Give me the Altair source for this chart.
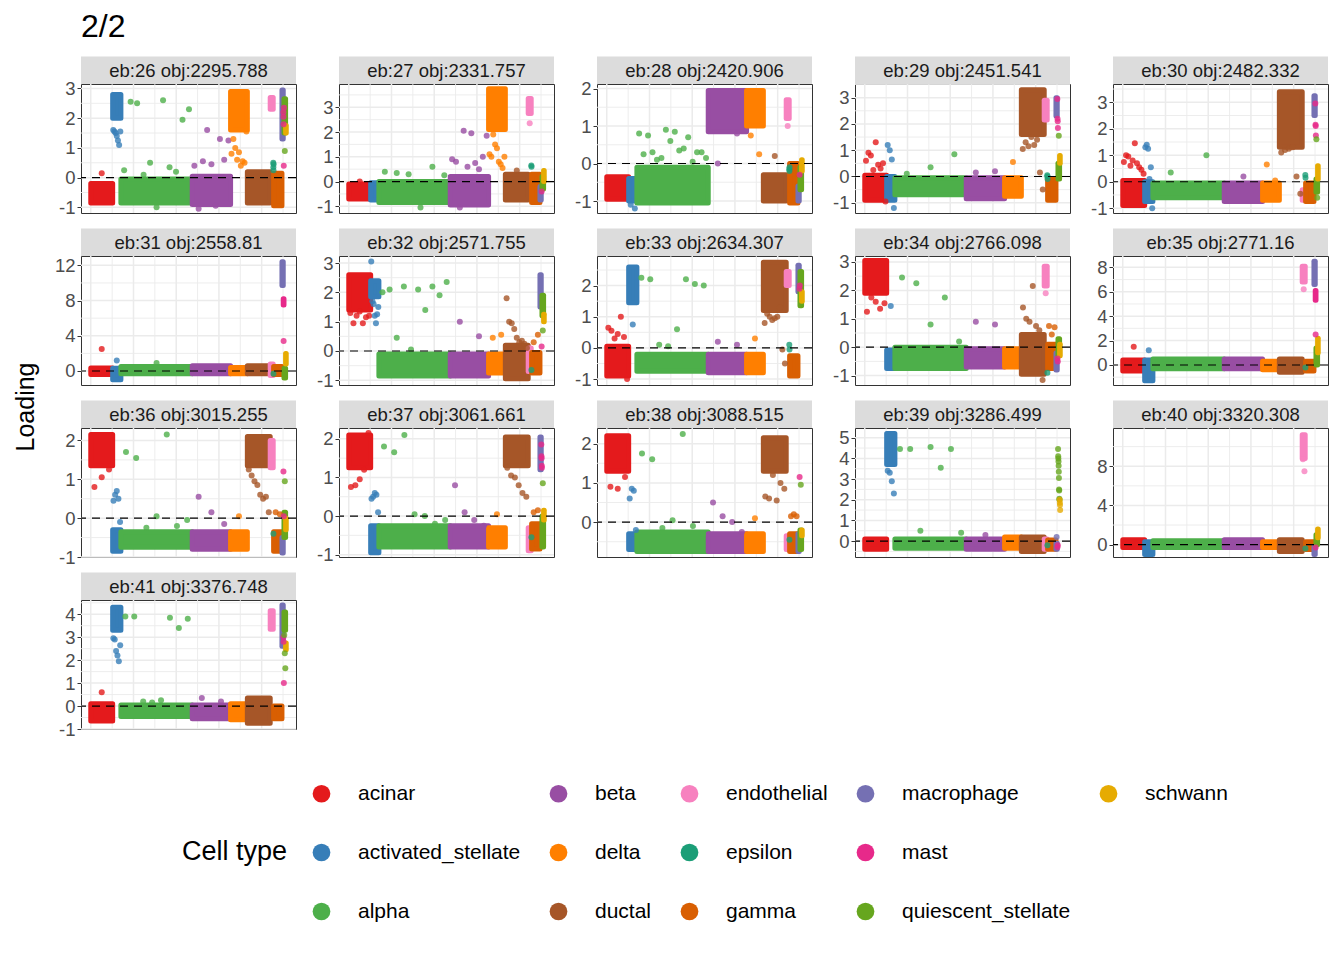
import altair as alt
import pandas as pd

# ---------------- data ----------------
cell_types = ["acinar", "activated_stellate", "alpha", "beta", "delta", "ductal",
              "endothelial", "epsilon", "gamma", "macrophage", "mast",
              "quiescent_stellate", "schwann"]
type_colors = ["#E41A1C", "#377EB8", "#4DAF4A", "#984EA3", "#FF7F00", "#A65628",
               "#F781BF", "#1B9E77", "#D95F02", "#7570B3", "#E7298A", "#66A61E", "#E6AB02"]
cells_per_type = [1025, 385, 3340, 1795, 785, 1070, 140, 20, 390, 60, 35, 75, 30]

panel_eb = [26, 27, 28, 29, 30, 31, 32, 33, 34, 35, 36, 37, 38, 39, 40, 41]
panel_obj = ["2295.788", "2331.757", "2420.906", "2451.541", "2482.332", "2558.81",
             "2571.755", "2634.307", "2766.098", "2771.16", "3015.255", "3061.661",
             "3088.515", "3286.499", "3320.308", "3376.748"]
panel_ymin = [-1.19, -1.27, -1.32, -1.39, -1.18, -1.59, -1.16, -1.19, -1.33, -1.64,
              -1.0, -1.06, -0.89, -0.77, -1.26, -1.0]
panel_ymax = [3.15, 3.94, 2.12, 3.52, 3.69, 13.06, 3.24, 2.95, 3.21, 8.93,
              2.32, 2.28, 2.40, 5.47, 11.9, 4.62]
panel_ticks = [[-1, 0, 1, 2, 3], [-1, 0, 1, 2, 3], [-1, 0, 1, 2], [-1, 0, 1, 2, 3],
               [-1, 0, 1, 2, 3], [0, 4, 8, 12], [-1, 0, 1, 2, 3], [-1, 0, 1, 2],
               [-1, 0, 1, 2, 3], [0, 2, 4, 6, 8], [-1, 0, 1, 2], [-1, 0, 1, 2],
               [0, 1, 2], [0, 1, 2, 3, 4, 5], [0, 4, 8], [-1, 0, 1, 2, 3, 4]]

# dense body of each cell type (low / high loading), one value per cell type
eb26_lo = [-0.85, 2.0, -0.85, -0.9, 1.6, -0.85, 2.3, None, -0.95, 1.3, None, 1.5, 1.5]
eb26_hi = [-0.2, 2.8, -0.05, 0.05, 2.9, 0.2, 2.7, None, 0.15, 2.95, None, 2.65, 1.75]
eb26_out = [[0.15], [1.6, 1.55, 1.5, 1.4, 1.25, 1.1, 1.55],
            [0.25, 2.55, 2.5, 0.1, 0.5, -1.0, 2.6, 0.35, 0.2, 1.95, 2.3],
            [0.4, -1.05, 0.55, 1.6, 0.45, -0.95, 1.3, 0.6, 1.25],
            [0.8, 1.3, 1.0, 0.6, 0.85, 0.4, 0.55, 0.5, 1.55], [], [],
            [0.5, 0.35, 0.25, 0.45], [], [], [2.2, 2.05, 1.8, 0.4, 2.35], [0.9], []]

eb27_lo = [-0.7, -0.75, -0.85, -0.95, 2.1, -0.75, 2.75, None, -0.85, -0.75, None, -0.3, 0.0]
eb27_hi = [-0.1, -0.05, 0.0, 0.2, 3.75, 0.3, 3.35, None, 0.3, -0.2, None, 0.2, 0.45]
eb27_out = [[0.0], [], [0.4, 0.35, 0.3, -1.05, 0.6, 0.25],
            [0.9, 0.8, -1.05, 2.05, 0.6, 1.95, 0.75, 0.5, 1.0, 1.85],
            [1.1, 1.0, 1.9, 1.5, 1.35, 0.8, 0.7, 0.55, 1.0], [0.45], [2.35],
            [0.65, 0.6], [], [], [-0.4], [], []]

eb28_lo = [-0.95, -1.0, -1.05, 0.85, 1.0, -1.0, 1.2, None, -1.05, -1.0, None, -0.7, -0.2]
eb28_hi = [-0.35, -0.4, -0.1, 1.95, 1.95, -0.3, 1.7, None, 0.0, -0.6, None, -0.1, 0.1]
eb28_out = [[], [-1.1, -1.2],
            [0.8, 0.25, 0.75, 0.3, 0.1, 0.15, 0.9, 0.6, 0.85, 0.35, 0.4, 0.7, 0.05, 0.3, 0.3, 0.15],
            [0.0, 0.8], [0.75, 0.25], [0.2], [1.0], [-0.15, -0.2, -0.1], [], [], [-0.3], [], []]

eb29_lo = [-0.9, -0.9, -0.7, -0.85, -0.75, 1.6, 2.15, None, -0.9, 2.3, None, -0.1, 0.5]
eb29_hi = [0.05, 0.0, -0.05, -0.05, -0.05, 3.3, 2.9, None, -0.1, 3.0, None, 0.5, 0.8]
eb29_out = [[0.6, 0.9, 0.8, 0.25, 1.3, 0.45, 0.3, 0.5, -0.95], [1.2, 1.0, 0.65, -1.2],
            [0.1, 0.35, 0.85], [0.15, 0.2], [0.55],
            [1.05, 1.3, 1.15, 1.5, 1.2, 1.4, 0.15, -0.5], [], [0.05, 0.0, -0.1], [], [],
            [2.95, 2.2, 2.1, 1.85], [1.55], []]

eb30_lo = [-0.9, -0.75, -0.6, -0.75, -0.7, 1.3, -0.7, None, -0.75, 2.5, None, -0.4, 0.1]
eb30_hi = [0.05, 0.0, -0.05, -0.05, -0.05, 3.4, -0.3, None, -0.05, 3.25, None, 0.1, 0.6]
eb30_out = [[0.75, 1.0, 0.95, 0.6, 0.8, 1.45, 0.7, 0.55, 0.45, 0.3],
            [1.3, 1.4, 1.25, 0.1, 0.55, -1.0], [0.35, 1.0], [0.2], [0.65, 0.05],
            [1.1, 1.2, 1.25, 1.3, 0.2, -0.45], [], [0.25, 0.15], [], [],
            [2.95, 2.15, 2.1, 1.75], [1.6, -0.6], []]

eb31_lo = [-0.4, -1.0, -0.3, -0.3, -0.3, -0.3, -0.5, None, -0.4, 9.7, 7.5, -0.8, 0.8]
eb31_hi = [0.35, 0.3, 0.5, 0.6, 0.4, 0.6, 0.8, None, 0.5, 12.4, 8.2, 0.3, 2.0]
eb31_out = [[2.5], [1.2], [0.9], [], [], [], [], [-0.3], [], [], [3.4], [], []]

eb32_lo = [1.4, 1.85, -0.85, -0.85, -0.75, -0.95, -0.7, None, -0.75, 1.5, None, 1.2, 1.0]
eb32_hi = [2.6, 2.4, -0.1, -0.1, -0.1, 0.2, 0.1, None, -0.05, 2.6, None, 1.9, 1.25]
eb32_out = [[1.3, 0.95, 1.2, 1.35, 0.95, 1.15, 1.2], [3.05, 1.7, 1.6, 1.2, 0.95, 1.25, 1.5],
            [2.0, 2.1, 0.45, 2.2, 0.05, 2.1, 1.4, 2.2, 1.9, 2.35], [1.0, 0.5], [0.45, 0.55],
            [1.8, 1.0, 0.95, 0.75, 0.45, 0.3, 0.35, 0.25, 0.1], [], [-0.65], [0.3, 0.55],
            [], [0.15], [0.7], []]

eb33_lo = [-0.9, 1.45, -0.75, -0.8, -0.8, 1.2, 2.0, None, -0.9, 1.8, None, 1.35, 1.5]
eb33_hi = [0.05, 2.6, -0.2, -0.2, -0.2, 2.75, 2.45, None, -0.25, 2.65, None, 2.45, 1.8]
eb33_out = [[0.65, 0.55, 0.3, 0.45, 1.0, 0.35, -1.0], [0.75],
            [2.25, 2.2, 0.1, 0.05, 0.6, 2.2, 2.05, 2.0], [0.2, 0.1], [0.3],
            [0.8, 1.1, 1.0, 0.9, 0.95, 1.0, 1.3, -0.05, -0.5], [], [0.1, -0.05], [], [],
            [1.9, 2.0], [], []]

eb34_lo = [1.9, -0.75, -0.75, -0.7, -0.7, -0.95, 2.15, None, -0.75, -0.8, None, -0.3, -0.3]
eb34_hi = [3.05, -0.1, 0.0, -0.05, -0.05, 0.45, 2.85, None, 0.1, -0.2, None, 0.3, 0.1]
eb34_out = [[1.25, 1.75, 1.6, 1.35, 1.55], [1.45], [2.45, 2.25, 0.8, 1.75, 0.2], [0.9, 0.8],
            [], [1.4, 1.0, 0.9, 2.15, 0.75, 0.6, -1.15], [1.9], [-0.9], [0.75, 0.45, 0.7],
            [], [-0.4, -0.5], [], []]

eb35_lo = [-0.5, -1.3, -0.3, -0.3, -0.4, -0.6, 6.8, None, -0.5, 6.6, 5.3, 0.0, 1.0]
eb35_hi = [0.4, 0.4, 0.5, 0.5, 0.3, 0.5, 8.1, None, 0.3, 8.5, 6.1, 1.4, 2.2]
eb35_out = [[1.5], [1.2], [], [], [], [], [6.2], [-0.2], [], [], [2.5], [], []]

eb36_lo = [1.35, -0.85, -0.75, -0.8, -0.8, 1.35, 1.3, None, -0.85, -0.9, None, -0.5, -0.3]
eb36_hi = [2.15, -0.3, -0.35, -0.35, -0.35, 2.1, 2.0, None, -0.35, -0.5, None, 0.15, 0.0]
eb36_out = [[0.8, 1.05, 1.25], [0.45, 0.6, 0.7, 0.5, -0.1],
            [1.7, 1.55, -0.25, 0.05, 2.15, -0.2, -0.05], [0.55, 0.15, -0.15], [0.05],
            [1.25, 1.1, 0.95, 0.85, 0.6, 0.5, 0.55, 0.15], [], [-0.4], [0.15, 0.1], [],
            [1.2, 0.05], [0.95], []]

eb37_lo = [1.25, -0.95, -0.8, -0.8, -0.8, 1.3, -0.9, None, -0.85, 1.2, None, -0.8, -0.1]
eb37_hi = [2.1, -0.25, -0.25, -0.25, -0.3, 2.05, -0.3, None, -0.2, 2.05, None, 0.0, 0.15]
eb37_out = [[0.75, 0.8, 0.95, 1.2, 2.15], [0.45, 0.5, 0.6, 0.55, 0.1],
            [1.8, 1.65, 2.1, 0.05, 0.0, -0.2, -0.1], [0.8, 0.1, -0.1, -0.25], [0.05],
            [1.25, 1.05, 1.0, 0.8, 0.6, 0.5], [], [-0.55], [0.1, 0.15], [],
            [1.85, 1.55, 1.5, 1.3, 1.25], [0.85], []]

eb38_lo = [1.3, -0.7, -0.75, -0.75, -0.75, 1.3, -0.7, None, -0.75, -0.75, None, -0.7, -0.35]
eb38_hi = [2.2, -0.3, -0.25, -0.3, -0.3, 2.15, -0.35, None, -0.3, -0.3, None, -0.2, -0.2]
eb38_out = [[0.9, 0.85, 1.15], [0.6, 0.85, 0.8, -0.2],
            [1.75, 1.6, -0.15, 0.05, 2.25, -0.1, -0.3], [0.5, 0.15, 0.0, -0.25], [0.1],
            [0.65, 0.6, 1.2, 0.55, 1.0, 0.85], [], [-0.45], [0.15, 0.2, 0.15], [],
            [1.15], [0.95], []]

eb39_lo = [-0.4, 3.7, -0.35, -0.4, -0.35, -0.5, -0.4, None, -0.4, -0.4, None, None, None]
eb39_hi = [0.1, 5.2, 0.1, 0.1, 0.2, 0.2, 0.1, None, 0.05, -0.1, None, None, None]
eb39_out = [[], [3.4, 3.3, 2.9, 2.3], [4.45, 4.45, 0.5, 4.55, 3.55, 4.45, 0.4], [0.3], [],
            [], [], [-0.2], [], [0.2], [-0.3, -0.2],
            [4.45, 4.1, 4.0, 3.85, 3.65, 3.35, 3.05, 2.5, 2.45, 2.05, 2.0],
            [2.0, 1.85, 1.75, 1.5]]

eb40_lo = [-0.3, -1.0, -0.3, -0.3, -0.3, -0.7, 8.8, None, -0.5, -1.0, None, 0.0, 0.7]
eb40_hi = [0.5, 0.3, 0.4, 0.5, 0.3, 0.5, 11.2, None, 0.3, -0.2, None, 1.0, 1.6]
eb40_out = [[], [], [], [], [], [], [8.7, 7.5], [-0.4], [], [], [-0.3], [], []]

eb41_lo = [-0.65, 3.3, -0.45, -0.55, -0.6, -0.75, 3.35, None, -0.55, 2.6, None, 3.3, 2.45]
eb41_hi = [0.1, 4.3, 0.05, 0.05, 0.1, 0.35, 4.15, None, 0.0, 4.4, None, 4.1, 2.75]
eb41_out = [[0.6], [2.95, 2.9, 2.4, 2.2, 1.95, 2.65],
            [3.9, 3.9, 0.2, 0.15, 0.25, 3.85, 3.4, 3.8], [0.35, 0.2], [], [], [], [], [],
            [], [3.0, 2.8, 1.0], [3.1, 2.3, 1.65], []]

panel_lo = [eb26_lo, eb27_lo, eb28_lo, eb29_lo, eb30_lo, eb31_lo, eb32_lo, eb33_lo,
            eb34_lo, eb35_lo, eb36_lo, eb37_lo, eb38_lo, eb39_lo, eb40_lo, eb41_lo]
panel_hi = [eb26_hi, eb27_hi, eb28_hi, eb29_hi, eb30_hi, eb31_hi, eb32_hi, eb33_hi,
            eb34_hi, eb35_hi, eb36_hi, eb37_hi, eb38_hi, eb39_hi, eb40_hi, eb41_hi]
panel_out = [eb26_out, eb27_out, eb28_out, eb29_out, eb30_out, eb31_out, eb32_out, eb33_out,
             eb34_out, eb35_out, eb36_out, eb37_out, eb38_out, eb39_out, eb40_out, eb41_out]

# legend order (ggplot fills the legend column by column)
legend_order = ["acinar", "beta", "endothelial", "macrophage", "schwann",
                "activated_stellate", "delta", "epsilon", "mast", " ",
                "alpha", "ductal", "gamma", "quiescent_stellate"]

# ---------------- layout / style ----------------
W, H = 215, 129
FONT = "Liberation Sans"
N = sum(cells_per_type)
starts = [sum(cells_per_type[:k]) for k in range(len(cells_per_type))]
color_of = dict(zip(cell_types, type_colors))
legend_colors = [color_of.get(t, "#FFFFFF") for t in legend_order]

x_scale = alt.Scale(domain=[-0.05 * N, 1.05 * N], nice=False, zero=False)

color_enc = alt.Color(
    "type:N",
    scale=alt.Scale(domain=legend_order, range=legend_colors),
    legend=alt.Legend(
        title="Cell type", orient="none", legendX=101, legendY=699,
        titleOrient="left", titleAnchor="middle", titleBaseline="middle",
        titleFontSize=27, titleFontWeight="normal", titleColor="black", titleFont=FONT,
        titlePadding=23, labelFontSize=21, labelColor="black", labelFont=FONT,
        labelLimit=400, labelOffset=26, columns=5, columnPadding=27, rowPadding=37,
        symbolType="circle", symbolSize=314, symbolStrokeWidth=0, symbolOpacity=1,
        direction="horizontal",
    ),
)
stroke_enc = alt.Stroke("type:N", scale=alt.Scale(domain=legend_order, range=legend_colors),
                        legend=None)

vgrid_df = pd.DataFrame({"v": list(range(0, 10000, 1000)),
                         "w": [1.5 if v % 2000 == 0 else 0.9 for v in range(0, 10000, 1000)]})


def make_panel(i):
    ticks = panel_ticks[i]
    ymin, ymax = panel_ymin[i], panel_ymax[i]
    step = ticks[1] - ticks[0]
    ys = alt.Scale(domain=[ymin, ymax], nice=False, zero=False)
    yaxis = alt.Axis(values=ticks, grid=False, domain=False, title=None,
                     tickColor="#333333", tickSize=4, tickWidth=1,
                     labelFontSize=18.5, labelColor="#4D4D4D", labelFont=FONT,
                     labelPadding=2, labelFlush=False, labelOverlap=False,
                     labelExpr="replace(datum.label, '\u2212', '-')")

    grid_vals, grid_w = [], []
    for t in ticks:
        grid_vals.append(t)
        grid_w.append(1.5)
    for t in [ticks[0] - step] + ticks:
        m = t + step / 2
        if ymin <= m <= ymax:
            grid_vals.append(m)
            grid_w.append(0.9)
    hgrid_df = pd.DataFrame({"v": grid_vals, "w": grid_w})

    body_rows, pt_rows = [], []
    for k, t in enumerate(cell_types):
        lo, hi = panel_lo[i][k], panel_hi[i][k]
        if lo is not None:
            body_rows.append({"type": t, "x0": starts[k], "x1": starts[k] + cells_per_type[k],
                              "y0": lo, "y1": hi})
        vals = panel_out[i][k]
        for j, v in enumerate(vals):
            pt_rows.append({"type": t,
                            "x": starts[k] + (j + 0.5) / len(vals) * cells_per_type[k],
                            "y": v})
    body_df = pd.DataFrame(body_rows)
    pt_df = pd.DataFrame(pt_rows)
    label_df = pd.DataFrame({"label": [f"eb:{panel_eb[i]} obj:{panel_obj[i]}"]})

    vgrid = alt.Chart(vgrid_df).mark_rule(color="#EBEBEB").encode(
        x=alt.X("v:Q", scale=x_scale, axis=None),
        strokeWidth=alt.StrokeWidth("w:Q", scale=None))
    hgrid = alt.Chart(hgrid_df).mark_rule(color="#EBEBEB").encode(
        y=alt.Y("v:Q", scale=ys, axis=yaxis),
        strokeWidth=alt.StrokeWidth("w:Q", scale=None))
    bodies = alt.Chart(body_df).mark_rect(strokeWidth=5, strokeJoin="round").encode(
        x=alt.X("x0:Q", scale=x_scale, axis=None), x2="x1:Q",
        y=alt.Y("y0:Q", scale=ys, axis=yaxis), y2="y1:Q",
        color=color_enc, stroke=stroke_enc)
    points = alt.Chart(pt_df).mark_circle(size=36, opacity=0.8).encode(
        x=alt.X("x:Q", scale=x_scale, axis=None),
        y=alt.Y("y:Q", scale=ys, axis=yaxis),
        color=color_enc)
    zero = alt.Chart(pd.DataFrame({"v": [0]})).mark_rule(
        color="black", strokeDash=[8, 6], strokeWidth=1.2).encode(
        y=alt.Y("v:Q", scale=ys, axis=yaxis))
    strip = alt.Chart(label_df).mark_rect(color="#DCDCDC").encode(
        x=alt.value(0), x2=alt.value(W), y=alt.value(-27.5), y2=alt.value(0))
    strip_text = alt.Chart(label_df).mark_text(
        fontSize=18.5, font=FONT, color="#1A1A1A", align="center", baseline="middle").encode(
        x=alt.value(W / 2), y=alt.value(-13.5), text="label:N")
    layers = [vgrid, hgrid, bodies, points, zero, strip, strip_text]
    if i == 0:
        layers.append(alt.Chart(label_df).mark_text(
            fontSize=32, font=FONT, color="black", align="left", baseline="alphabetic").encode(
            x=alt.value(0), y=alt.value(-47), text=alt.value("2/2")))
    if i == 10:
        layers.append(alt.Chart(label_df).mark_text(
            fontSize=25, font=FONT, color="black", angle=270, align="center",
            baseline="middle").encode(
            x=alt.value(-55), y=alt.value(-21), text=alt.value("Loading")))
    return alt.layer(*layers).properties(width=W, height=H)


panels = [make_panel(i) for i in range(len(panel_eb))]

chart = alt.concat(*panels, columns=5, spacing=43, bounds="flush").resolve_scale(
    x="independent", y="independent"
).properties(padding={"left": 5, "top": 2, "right": 5, "bottom": 5}).configure(
    font=FONT).configure_view(stroke="#333333", strokeWidth=1, fill="white")

chart.save("out.html", embed_options={"renderer": "svg", "actions": False})
